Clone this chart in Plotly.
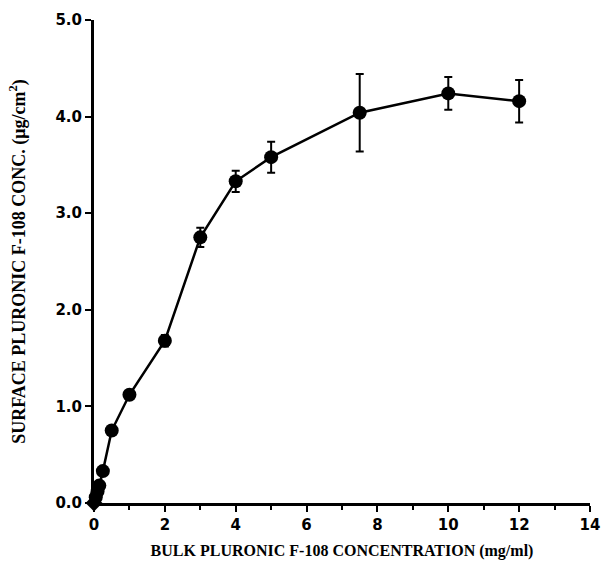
import plotly.graph_objects as go

# Data
bulk_conc = [0.05, 0.1, 0.15, 0.25, 0.5, 1.0, 2.0, 3.0, 4.0, 5.0, 7.5, 10.0, 12.0]
surface_conc = [0.06, 0.12, 0.18, 0.33, 0.75, 1.12, 1.68, 2.75, 3.33, 3.58, 4.04, 4.24, 4.16]
err_plus = [0, 0, 0, 0, 0, 0, 0.06, 0.10, 0.11, 0.16, 0.40, 0.17, 0.22]
err_minus = [0, 0, 0, 0, 0, 0, 0.06, 0.10, 0.11, 0.16, 0.40, 0.17, 0.22]
origin_x = [0.0]
origin_y = [0.0]

x_ticks = [0, 2, 4, 6, 8, 10, 12, 14]
y_ticks = [0, 1, 2, 3, 4, 5]
y_tick_text = ["0.0", "1.0", "2.0", "3.0", "4.0", "5.0"]

fig = go.Figure()
fig.add_trace(go.Scatter(
    x=origin_x + bulk_conc, y=origin_y + surface_conc,
    mode="lines", line=dict(color="black", width=2.5),
    showlegend=False, cliponaxis=False, hoverinfo="skip"))
fig.add_trace(go.Scatter(
    x=bulk_conc, y=surface_conc, mode="markers",
    marker=dict(color="black", size=14, symbol="circle"),
    error_y=dict(type="data", symmetric=False, array=err_plus, arrayminus=err_minus,
                 color="black", thickness=2, width=4),
    showlegend=False, cliponaxis=False))
fig.add_trace(go.Scatter(
    x=origin_x, y=origin_y, mode="markers",
    marker=dict(color="black", size=13, symbol="diamond"),
    showlegend=False, cliponaxis=False))

serif = "Liberation Serif"
sans = "DejaVu Sans"

fig.update_layout(
    width=605, height=568,
    margin=dict(l=94, r=15, t=20, b=65),
    plot_bgcolor="white", paper_bgcolor="white",
    xaxis=dict(
        range=[0, 14], tickvals=x_ticks, ticktext=[str(v) for v in x_ticks],
        automargin=False,
        showline=True, linecolor="black", linewidth=3, mirror=False,
        ticks="outside", ticklen=6, tickwidth=2, tickcolor="black",
        minor=dict(dtick=1, ticks="outside", ticklen=4, tickwidth=2, tickcolor="black"),
        showgrid=False, zeroline=False,
        tickfont=dict(family=sans, size=15, color="black", weight="bold"),
        title=dict(text="BULK PLURONIC F-108 CONCENTRATION (mg/ml)",
                   font=dict(family=serif, size=16, color="black", weight="bold"),
                   standoff=12),
    ),
    yaxis=dict(
        range=[0, 5], tickvals=y_ticks, ticktext=y_tick_text,
        automargin=False,
        showline=True, linecolor="black", linewidth=3,
        ticks="outside", ticklen=6, tickwidth=2, tickcolor="black",
        showgrid=False, zeroline=False,
        tickfont=dict(family=sans, size=15, color="black", weight="bold"),
        title=dict(text="SURFACE PLURONIC F-108 CONC. (μg/cm<sup>2</sup>)",
                   font=dict(family=serif, size=18, color="black", weight="bold"),
                   standoff=26),
    ),
)

fig.write_html("out.html")
